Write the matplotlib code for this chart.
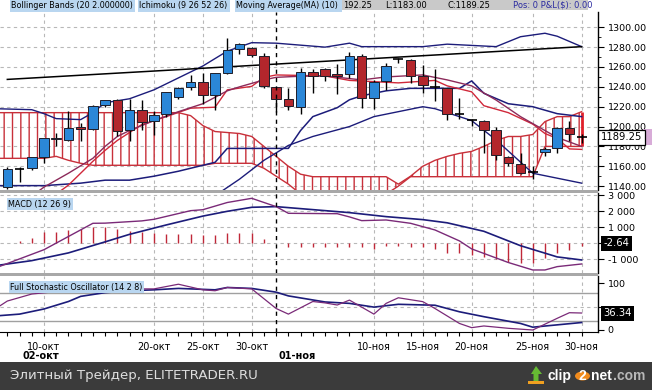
import matplotlib
matplotlib.use("Agg")
import matplotlib.pyplot as plt
import matplotlib.transforms as mtransforms
from matplotlib.patches import Rectangle, Circle, Polygon

ANCHO, ALTO = 652, 390

# ---------------- velas ----------------
apertura = [1139, 1157, 1158, 1169.5, 1188, 1186, 1199, 1198, 1222, 1227,
            1197, 1217, 1206, 1213, 1229.5, 1240, 1244.5, 1232, 1254, 1278,
            1279.5, 1271, 1239.5, 1227.5, 1220, 1254.5, 1258, 1252.5, 1252.5, 1271,
            1228.5, 1246, 1267.7, 1267, 1251, 1240, 1238.5, 1213.3, 1207, 1205.5,
            1196.5, 1169.5, 1162, 1154.5, 1174, 1178, 1199, 1189.5]
maximo = [1159.5, 1159, 1169, 1188, 1194, 1216, 1204, 1222, 1227, 1228,
          1228, 1227, 1216, 1235, 1240, 1252, 1254, 1254, 1289, 1284,
          1280, 1274.5, 1240, 1238.5, 1259, 1258, 1259, 1263, 1275, 1273,
          1247, 1264, 1269, 1268, 1262, 1258, 1239, 1228.5, 1208, 1207,
          1200, 1170, 1173, 1160, 1179, 1200, 1206, 1192.25]
minimo = [1137, 1144, 1156, 1163, 1180, 1185, 1185, 1197, 1220, 1190,
          1185, 1197, 1192, 1210, 1228, 1237, 1223, 1217, 1253, 1273,
          1270, 1238.5, 1215, 1217, 1213, 1234, 1246, 1233, 1248.5, 1219,
          1218, 1237, 1264, 1244, 1234, 1226, 1207, 1208, 1201, 1173,
          1166, 1160, 1152, 1147, 1170, 1173, 1185, 1183]
cierre = [1157, 1157, 1169, 1188, 1187, 1199, 1198, 1221, 1227, 1196,
          1217, 1205, 1212, 1234.5, 1238.5, 1244.5, 1232, 1253.5, 1277, 1283,
          1272, 1241, 1228, 1221, 1255, 1251, 1251, 1251, 1271, 1228.5,
          1245, 1261, 1267.7, 1251, 1242, 1239.5, 1213, 1213, 1207, 1197,
          1171, 1163, 1153.5, 1154.5, 1177.5, 1199, 1192.5, 1189.25]

# ---------------- indicadores del panel de precio ----------------
bb_sup_x = [-1, 2, 3, 4, 6, 7, 8, 10, 12, 14, 16, 18, 20, 22, 26, 28, 29, 34, 36, 40, 42, 44, 45, 47]
bb_sup = [1218, 1217, 1213, 1208, 1207, 1214, 1224, 1228, 1237, 1249, 1261, 1276, 1284.5, 1284,
          1280, 1284, 1280.5, 1280.5, 1283, 1280.5, 1290.5, 1294, 1291, 1280.5]
bb_inf_x = [16, 19, 21, 23, 25, 28, 30, 34, 35, 38, 40, 43, 47]
bb_inf = [1122, 1147, 1166, 1181, 1190, 1200, 1210, 1220, 1218, 1206, 1186.5, 1153, 1143]

kijun_x = [-1, 3, 6, 8, 10, 12, 14, 16, 17, 18, 23, 24, 25, 27, 28, 29, 31, 33, 37, 38, 39, 41, 43, 45, 47]
kijun = [1140.5, 1140.5, 1143, 1146, 1146, 1150, 1155, 1161, 1164, 1178, 1178, 1196, 1210, 1219,
         1227, 1231, 1236, 1238.5, 1238.5, 1246, 1233.5, 1223, 1220, 1213, 1210]
tenkan_x = [4, 5, 7, 8, 9, 10, 11, 12, 13, 15, 17, 18, 20, 21, 22, 26, 28, 32, 35, 36, 38, 39,
            41, 43, 44, 45, 46, 47]
tenkan = [1132, 1141, 1165, 1176, 1186, 1194, 1202, 1206, 1210, 1218.5, 1219.5, 1237, 1240.5,
          1249.5, 1252, 1251, 1246.5, 1244, 1246.5, 1241, 1235, 1221, 1214, 1202.5, 1193, 1188,
          1177.5, 1177]
ma10_x = [2, 3, 5, 7, 8, 9, 10, 12, 14, 16, 18, 19, 21, 22, 24, 26, 29, 31, 34, 36, 38, 40, 42, 45, 47]
ma10 = [1130, 1139, 1153, 1168, 1180, 1190, 1196, 1206, 1215, 1223, 1236, 1240, 1247, 1249.6,
        1250.7, 1251, 1247, 1250, 1252, 1247, 1241, 1226.7, 1210, 1189, 1180]
tendencia_x = [0, 47]
tendencia = [1247.5, 1280.5]

# nube de Ichimoku, una barra por valor desde -1 hasta 47
nube_x = list(range(-1, 48))
nube_sup = [1214] * 16 + [1211, 1201, 1195, 1194, 1193, 1190, 1180, 1170, 1160, 1152] + \
           [1149.5] * 7 + [1142, 1150, 1160, 1166, 1170, 1173, 1175, 1180, 1186, 1190, 1190,
                           1192, 1205, 1210, 1210, 1215]
nube_inf = [1168] * 5 + [1170, 1166, 1163] + [1161] * 10 + [1163] * 4 + [1158, 1150, 1142] + \
           [1132] * 8 + [1140] + [1149.5] * 11 + [1180] * 4

# ---------------- MACD ----------------
macd_x = [-1, 3, 7, 8, 11, 12, 15, 16, 18, 20, 22, 23, 27, 28, 29, 31, 33, 35, 37, 38, 41, 43, 44, 45, 47]
macd = [-1550, -400, 1250, 1260, 1400, 1500, 2040, 2100, 2550, 2812, 2292, 1875, 1850, 1650, 1417,
        1458, 1250, 833, 150, -350, -1200, -1667, -1667, -1458, -1292]
senal_x = [-1, 2, 5, 8, 10, 13, 16, 18, 20, 22, 26, 28, 31, 34, 36, 39, 42, 45, 47]
senal = [-1400, -1083, -600, 90, 560, 1146, 1700, 2000, 2250, 2292, 2042, 1917, 1667, 1480, 1280,
         750, -150, -850, -1042]
histo_x = [1, 2, 3, 4, 5, 6, 7, 8, 9, 10, 11, 12, 13, 14, 15, 16, 17, 18, 19, 20, 21,
           23, 24, 25, 26, 27, 28, 29, 30, 31, 32, 33, 34, 35, 36, 37, 38, 39, 40, 41, 42, 43,
           44, 45, 46, 47]
histo = [150, 312, 725, 725, 830, 875, 1000, 1040, 875, 790, 725, 625, 580, 580, 560, 520, 520,
         625, 665, 625, 290,
         -200, -200, -200, -208, -208, -208, -250, -375, -167, -167, -250, -250, -375, -583, -625,
         -729, -833, -1000, -1146, -1208, -1250, -938, -583, -417, -167]

# ---------------- estocástico ----------------
est_k_x = [-1, 0, 2, 5, 9, 12, 14, 16, 17, 18, 20, 22, 23, 25, 26, 27, 28, 30, 31, 32, 34, 35, 37,
           38, 39, 41, 43, 45, 46, 47]
est_k = [45, 62, 77, 85, 88, 88, 98, 86, 84, 91, 88, 46, 34, 61, 58, 53.5, 64, 34, 57, 69, 60.7,
         46, 14, 5, 8.6, 3.6, 0, 25, 37, 36.34]
est_d_x = [-1, 1, 3, 5, 6, 8, 10, 12, 14, 16, 17, 18, 20, 22, 23, 26, 28, 30, 32, 35, 37, 39, 42,
           43, 45, 47]
est_d = [30, 34, 45, 61, 72, 80, 84, 86, 89, 87, 86, 91, 89, 81, 73, 60, 57, 49, 55, 53, 39, 28.5,
         14, 6, 11, 16]

# ---------------- eje de fechas ----------------
ticks_pos = [3, 12, 16, 20, 30, 34, 38, 43, 47]
ticks_txt = ["10-окт", "20-окт", "25-окт", "30-окт", "10-ноя", "15-ноя", "20-ноя", "25-ноя", "30-ноя"]
meses_pos = [2.75, 23.75]
meses_txt = ["02-окт", "01-ноя"]
linea_mes = 22

precios_eje = [1140, 1160, 1180, 1200, 1220, 1240, 1260, 1280, 1300]
macd_eje = [-1000, 0, 1000, 2000, 3000]
macd_eje_txt = ["-1 000", "", "1 000", "2 000", "3 000"]   # el 0 queda bajo la caja negra
est_eje = [0, 50, 100]
est_eje_txt = ["0", "", "100"]                              # el 50 queda bajo la caja negra
ultimo_precio = 1189.25
ultimo_macd = -2.64
ultimo_est = 36.34

# ---------------- estilos ----------------
AZUL_VELA = "#2b87d8"
ROJO_VELA = "#b3262c"
MARINO = "#1c1c7a"
ROJO = "#d0283a"
GRANATE = "#8c2a5a"
NUBE = "#c8303a"
MORADO = "#7a2a78"
GRIS_GRID = "#b8b8b8"
AZUL_CAJA = "#b9d6f0"
FUENTE = "DejaVu Sans"


def caja(x0, y0, x1, y1):
    # rectángulo en pixeles (origen arriba a la izquierda) a fracción de figura
    return [x0 / ANCHO, 1 - y1 / ALTO, (x1 - x0) / ANCHO, (y1 - y0) / ALTO]


def rect_fig(fig, x0, y0, x1, y1, color, zorder=0):
    fig.add_artist(Rectangle((x0 / ANCHO, 1 - y1 / ALTO), (x1 - x0) / ANCHO, (y1 - y0) / ALTO,
                             transform=fig.transFigure, facecolor=color, edgecolor="none",
                             zorder=zorder))


def texto_fig(fig, x, y, s, family=FUENTE, **kw):
    fig.text(x / ANCHO, 1 - y / ALTO, s, family=family, va="center", **kw)


plt.rcParams["hatch.linewidth"] = 1.0
fig = plt.figure(figsize=(ANCHO / 100, ALTO / 100), dpi=100)
fig.patch.set_facecolor("white")

ax_p = fig.add_axes(caja(0, 12, 598, 190))
ax_m = fig.add_axes(caja(0, 193, 598, 273))
ax_s = fig.add_axes(caja(0, 276, 598, 332))

for ax in (ax_p, ax_m, ax_s):
    ax.set_xlim(-0.6, 48.34)
    ax.set_facecolor("white")
    for lado in ("left", "top", "bottom"):
        ax.spines[lado].set_visible(False)
    ax.spines["right"].set_color("black")
    ax.spines["right"].set_linewidth(1.0)
    ax.yaxis.tick_right()
    ax.tick_params(axis="y", which="major", length=4, width=0.8, pad=3, labelsize=6.8,
                   colors="black")
    ax.tick_params(axis="y", which="minor", length=2, width=0.6)
    ax.set_xticks(ticks_pos)
    ax.tick_params(axis="x", which="both", length=0, labelbottom=False)
    for xp in ticks_pos:
        ax.axvline(xp, color=GRIS_GRID, lw=0.8, ls=(0, (3, 3)), zorder=0)
    ax.axvline(linea_mes, color="black", lw=1.0, ls=(0, (3, 3)), zorder=6)

# ---------------- panel de precio ----------------
ax_p.set_ylim(1136.1, 1315.4)
ax_p.set_yticks(precios_eje)
ax_p.set_yticklabels([f"{v:.2f}" for v in precios_eje])
ax_p.set_yticks([v + 10 for v in precios_eje[:-1]], minor=True)
for v in precios_eje:
    ax_p.axhline(v, color=GRIS_GRID, lw=0.8, ls=(0, (3, 3)), zorder=0)

ax_p.fill_between(nube_x, nube_sup, nube_inf, facecolor="none", edgecolor=NUBE, hatch="||",
                  linewidth=0, zorder=1)
ax_p.plot(nube_x, nube_sup, color=NUBE, lw=1.0, zorder=2)
ax_p.plot(nube_x, nube_inf, color=NUBE, lw=1.0, zorder=2)
ax_p.vlines(nube_x[-1], nube_inf[-1], nube_sup[-1], color="#e0202a", lw=2.0, zorder=2)

ax_p.plot(bb_sup_x, bb_sup, color=MARINO, lw=1.0, zorder=3)
ax_p.plot(bb_inf_x, bb_inf, color=MARINO, lw=1.0, zorder=3)
ax_p.plot(kijun_x, kijun, color=MARINO, lw=1.1, zorder=3)
ax_p.plot(tenkan_x, tenkan, color=ROJO, lw=1.0, zorder=3)
ax_p.plot(ma10_x, ma10, color=GRANATE, lw=1.0, zorder=3)
ax_p.plot(tendencia_x, tendencia, color="black", lw=1.1, zorder=3)

# velas
x_velas = list(range(len(cierre)))
ax_p.vlines(x_velas, minimo, maximo, color="black", lw=1.0, zorder=4)
cuerpos_x, cuerpos_base, cuerpos_alto, cuerpos_color = [], [], [], []
doji_x, doji_y = [], []
for i in x_velas:
    o, c = apertura[i], cierre[i]
    if abs(c - o) < 0.6:
        doji_x.append(i)
        doji_y.append(c)
        continue
    cuerpos_x.append(i)
    cuerpos_base.append(min(o, c))
    cuerpos_alto.append(max(abs(c - o), 1.2))
    cuerpos_color.append(AZUL_VELA if c > o else ROJO_VELA)
ax_p.bar(cuerpos_x, cuerpos_alto, bottom=cuerpos_base, width=0.78, color=cuerpos_color,
         edgecolor="#1e1e2a", linewidth=0.7, zorder=5)
ax_p.hlines(doji_y, [d - 0.4 for d in doji_x], [d + 0.4 for d in doji_x], color="black",
            lw=1.2, zorder=5)

trans_p = mtransforms.blended_transform_factory(ax_p.transAxes, ax_p.transData)
ax_p.text(1.005, ultimo_precio, f"{ultimo_precio:.2f}", transform=trans_p, ha="left",
          va="center", fontsize=7.2, family=FUENTE, clip_on=False, zorder=10,
          bbox=dict(boxstyle="square,pad=0.25", facecolor="white", edgecolor="black", lw=0.9))
ax_p.add_patch(Rectangle((1.0753, ultimo_precio - 8.3), 0.02, 16.6, transform=trans_p,
                         facecolor="#d8acd8", edgecolor="none", clip_on=False, zorder=9))

# ---------------- panel MACD ----------------
ax_m.set_ylim(-1856, 3144)
ax_m.set_yticks(macd_eje)
ax_m.set_yticklabels(macd_eje_txt)
for v in macd_eje:
    ax_m.axhline(v, color=GRIS_GRID, lw=0.8, ls=(0, (3, 3)), zorder=0)
ax_m.vlines(histo_x, 0, histo, color="#c02838", lw=1.0, zorder=2)
ax_m.plot(senal_x, senal, color=MARINO, lw=1.2, zorder=3)
ax_m.plot(macd_x, macd, color=MORADO, lw=1.0, zorder=3)
ax_m.text(0.014, 0.86, "MACD (12 26 9)", transform=ax_m.transAxes, fontsize=5.8,
          family=FUENTE, va="center", ha="left", zorder=8,
          bbox=dict(boxstyle="square,pad=0.15", facecolor=AZUL_CAJA, edgecolor="none"))
trans_m = mtransforms.blended_transform_factory(ax_m.transAxes, ax_m.transData)
ax_m.text(1.009, ultimo_macd, f"{ultimo_macd:.2f}", transform=trans_m, ha="left", va="center",
          fontsize=7.2, family=FUENTE, color="white", clip_on=False, zorder=10,
          bbox=dict(boxstyle="square,pad=0.25", facecolor="black", edgecolor="none"))

# ---------------- panel estocástico ----------------
ax_s.set_ylim(-4.3, 115.6)
ax_s.set_yticks(est_eje)
ax_s.set_yticklabels(est_eje_txt)
ax_s.axhline(80, color="#a0a0a0", lw=1.0, zorder=0)
ax_s.axhline(20, color="#a0a0a0", lw=1.0, zorder=0)
ax_s.axhline(50, color=GRIS_GRID, lw=0.8, ls=(0, (3, 3)), zorder=0)
ax_s.plot(est_d_x, est_d, color=MARINO, lw=1.2, zorder=3)
ax_s.plot(est_k_x, est_k, color=MORADO, lw=0.9, zorder=3)
ax_s.text(0.017, 0.8, "Full Stochastic Oscillator (14 2 8)", transform=ax_s.transAxes,
          fontsize=5.8, family=FUENTE, va="center", ha="left", zorder=8,
          bbox=dict(boxstyle="square,pad=0.15", facecolor=AZUL_CAJA, edgecolor="none"))
trans_s = mtransforms.blended_transform_factory(ax_s.transAxes, ax_s.transData)
ax_s.text(1.009, ultimo_est, f"{ultimo_est:.2f}", transform=trans_s, ha="left", va="center",
          fontsize=7.2, family=FUENTE, color="white", clip_on=False, zorder=10,
          bbox=dict(boxstyle="square,pad=0.25", facecolor="black", edgecolor="none"))

# eje de fechas
ax_s.spines["bottom"].set_visible(True)
ax_s.spines["bottom"].set_color("black")
ax_s.set_xticks(x_velas, minor=True)
ax_s.set_xticklabels(ticks_txt)
ax_s.tick_params(axis="x", which="major", length=3, width=0.8, labelbottom=True, pad=4,
                 labelsize=7)
ax_s.tick_params(axis="x", which="minor", length=3, width=0.8)
for lbl in ax_s.get_xticklabels():
    lbl.set_family(FUENTE)
trans_x = mtransforms.blended_transform_factory(ax_s.transData, ax_s.transAxes)
for xp, txt in zip(meses_pos, meses_txt):
    ax_s.text(xp, -0.43, txt, transform=trans_x, ha="center", va="center", fontsize=7,
              fontweight="bold", family=FUENTE, clip_on=False)

# separadores grises entre paneles
rect_fig(fig, 0, 190, 598, 193, "#a8a8a8", zorder=5)
rect_fig(fig, 0, 273, 598, 276, "#a8a8a8", zorder=5)

# ---------------- cabecera ----------------
rect_fig(fig, 10, 0, 135, 11.5, AZUL_CAJA, zorder=6)
rect_fig(fig, 138, 0, 230, 11.5, AZUL_CAJA, zorder=6)
rect_fig(fig, 235, 0, 342, 11.5, AZUL_CAJA, zorder=6)
rect_fig(fig, 342, 0, 588, 10, "#c9c9c9", zorder=6)
texto_fig(fig, 11, 5.5, "Bollinger Bands (20 2.000000)", fontsize=5.75, zorder=7)
texto_fig(fig, 139, 5.5, "Ichimoku (9 26 52 26)", fontsize=5.75, zorder=7)
texto_fig(fig, 236, 5.5, "Moving Average(MA) (10)", fontsize=5.75, zorder=7)
texto_fig(fig, 343, 5.0, "192.25", fontsize=6.0, zorder=7)
texto_fig(fig, 385, 5.0, "L:1183.00", fontsize=6.0, zorder=7)
texto_fig(fig, 448, 5.0, "C:1189.25", fontsize=6.0, zorder=7)
texto_fig(fig, 513, 5.0, "Pos: 0 P&L($): 0.00", fontsize=6.0, color="#2a2aa0", zorder=7)

# ---------------- banda inferior ----------------
rect_fig(fig, 0, 362, ANCHO, ALTO, "#3b3b3b", zorder=6)
texto_fig(fig, 10, 376, "Элитный Трейдер, ELITETRADER.RU", fontsize=9.6, color="#dedede", zorder=7)
fig.add_artist(Polygon([[531 / ANCHO, 1 - 374 / ALTO], [536 / ANCHO, 1 - 366 / ALTO],
                        [542 / ANCHO, 1 - 374 / ALTO], [538.5 / ANCHO, 1 - 374 / ALTO],
                        [538.5 / ANCHO, 1 - 381 / ALTO], [533.5 / ANCHO, 1 - 381 / ALTO],
                        [533.5 / ANCHO, 1 - 374 / ALTO]], closed=True,
                       transform=fig.transFigure, facecolor="#66bb33", edgecolor="none",
                       zorder=7))
rect_fig(fig, 528, 381, 544, 384, "#f0a020", zorder=7)
LOGO = "Liberation Sans"
texto_fig(fig, 547, 376, "clip", family=LOGO, fontsize=10, fontweight="bold", color="white",
          zorder=7)
fig.add_artist(Circle((582.5 / ANCHO, 1 - 376 / ALTO), 7.5 / ANCHO, transform=fig.transFigure,
                      facecolor="#f08a1c", edgecolor="none", zorder=7))
texto_fig(fig, 582.5, 376, "2", family=LOGO, fontsize=10, fontweight="bold", color="white",
          ha="center", zorder=8)
texto_fig(fig, 591, 376, "net", family=LOGO, fontsize=10, fontweight="bold", color="white",
          zorder=7)
texto_fig(fig, 613, 376, ".com", family=LOGO, fontsize=10, fontweight="bold", color="#b8b8b8",
          zorder=7)

fig.savefig("out.png", dpi=100, facecolor="white")
